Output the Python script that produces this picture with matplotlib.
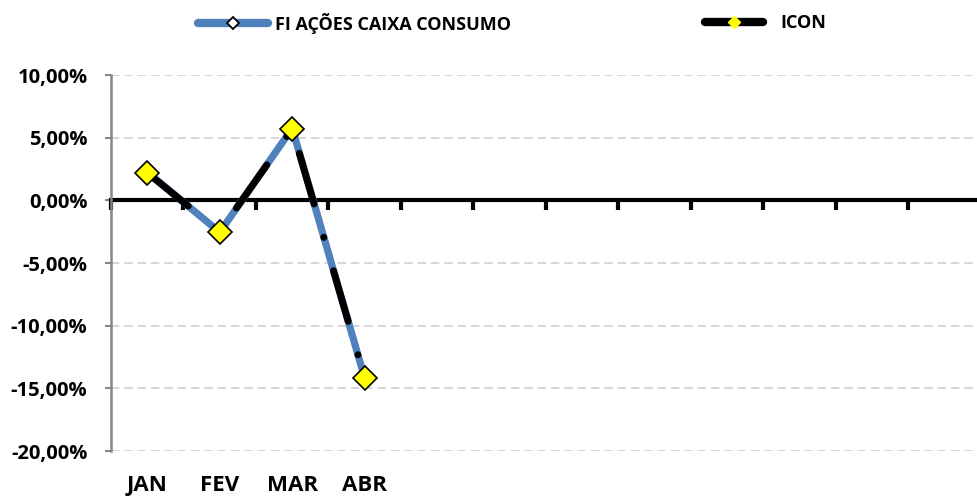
import matplotlib
matplotlib.use("Agg")
import matplotlib.pyplot as plt
from matplotlib.lines import Line2D
from matplotlib.ticker import FixedLocator, FuncFormatter, NullFormatter

months = ["JAN", "FEV", "MAR", "ABR", "MAI", "JUN", "JUL", "AGO", "SET", "OUT", "NOV", "DEZ"]
fund_label = "FI AÇÕES CAIXA CONSUMO"
icon_label = "ICON"
fund_values = [2.25, -2.55, 5.75, -14.2]
icon_values = [2.2, -2.5, 5.7, -14.2]
y_ticks = [10, 5, 0, -5, -10, -15, -20]

plt.rcParams["font.family"] = ["Open Sans", "DejaVu Sans"]
plt.rcParams["font.weight"] = "bold"

fig = plt.figure(figsize=(9.78, 4.97), dpi=100)
ax = fig.add_axes([111 / 978, 46 / 497, 870 / 978, 376 / 497])

x_fund = list(range(len(fund_values)))
x_icon = list(range(len(icon_values)))

ax.plot(x_fund, fund_values, color="#4F81BD", linewidth=5.2, solid_capstyle="round",
        marker="D", markersize=6, markerfacecolor="white", markeredgecolor="black",
        markeredgewidth=1.2, zorder=3)
ax.plot(x_icon, icon_values, color="black", linewidth=5.0,
        dash_capstyle="round", linestyle=(0, (7.6, 5.0, 0.01, 5.0)), zorder=4)
ax.plot(x_icon, icon_values, linestyle="none", marker="D", markersize=12,
        markerfacecolor="#FFFF00", markeredgecolor="black", markeredgewidth=1.2, zorder=5)

ax.set_xlim(-0.5, len(months) - 0.5)
ax.set_ylim(-20, 10)

# y axis
ax.yaxis.set_major_locator(FixedLocator(y_ticks))
ax.yaxis.set_major_formatter(FuncFormatter(lambda v, p: f"{v:.2f}%".replace(".", ",")))
ax.tick_params(axis="y", length=4, width=1.5, color="#868686", pad=13, labelsize=14.5)
ax.spines["left"].set_color("#868686")
ax.spines["left"].set_linewidth(1.8)
ax.spines["top"].set_visible(False)
ax.spines["right"].set_visible(False)
ax.grid(axis="y", color="#D0D0D0", linestyle=(0, (5, 3)), linewidth=1.2)
ax.set_axisbelow(True)

# zero line with category boundary ticks
ax.spines["bottom"].set_position(("data", 0))
ax.spines["bottom"].set_color("black")
ax.spines["bottom"].set_linewidth(3)
ax.spines["bottom"].set_zorder(2)
ax.xaxis.set_major_locator(FixedLocator([i - 0.5 for i in range(len(months) + 1)]))
ax.xaxis.set_major_formatter(NullFormatter())
ax.tick_params(axis="x", direction="out", length=7, width=3, color="black")

# month labels at the bottom
sec = ax.secondary_xaxis(0.0)
sec.set_xticks(range(len(fund_values)), months[:len(fund_values)])
sec.tick_params(length=0, pad=17, labelsize=16)
sec.spines["bottom"].set_visible(False)

fund_handle = Line2D([], [], color="#4F81BD", linewidth=6, solid_capstyle="round", marker="D",
                     markersize=6, markerfacecolor="white", markeredgecolor="black",
                     markeredgewidth=1.3)
icon_handle = Line2D([], [], color="black", linewidth=6, solid_capstyle="round", marker="D",
                     markersize=6, markerfacecolor="#FFFF00", markeredgecolor="#FFFF00")
leg1 = fig.legend(handles=[fund_handle], labels=[fund_label], loc="center left",
                  bbox_to_anchor=(198 / 978, 1 - 23 / 497), frameon=False, fontsize=13,
                  borderpad=0, borderaxespad=0, handlelength=3.9, handletextpad=0.35)
fig.legend(handles=[icon_handle], labels=[icon_label], loc="center left",
           bbox_to_anchor=(705 / 978, 1 - 23 / 497), frameon=False, fontsize=13,
           borderpad=0, borderaxespad=0, handlelength=3.2, handletextpad=0.95)

fig.savefig("out.png", dpi=100)
